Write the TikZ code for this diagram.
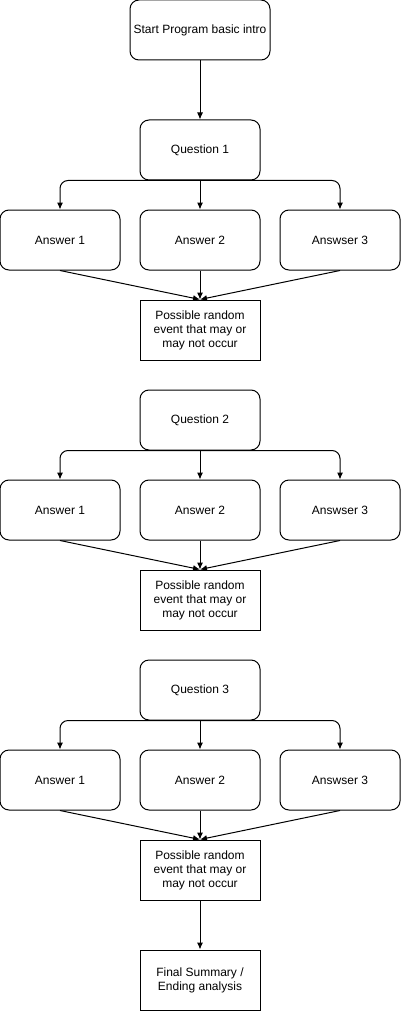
\documentclass[tikz,border=0pt]{standalone}
\usepackage{fontspec}
\setmainfont{Liberation Sans}
\usepackage{tikz}
\usetikzlibrary{arrows.meta,positioning}
\tikzstyle{line} = [draw, line width=1pt, >={Latex[length=7pt,width=6pt]}]
\tikzstyle{roundbox} = [draw, line width=1pt, rounded corners=9pt, minimum width=120pt, minimum height=60pt, inner sep=0pt, font=\fontsize{12}{14}\selectfont]
\tikzstyle{squarebox} = [draw, line width=1pt, minimum width=120pt, minimum height=60pt, inner sep=0pt, align=center, font=\fontsize{12}{14}\selectfont]
\tikzset{>=latex}

\begin{document}
\begin{tikzpicture}[x=1pt,y=-1pt]
      \useasboundingbox (0,0) rectangle (401,1011);

      \node [roundbox,minimum width=140pt] (start) at (200,30) {Start Program basic intro};

      % first question
      \node [roundbox] (q1) at (200,150) {Question 1};
      \node [roundbox] (a11) at (60,240) {Answer 1};
      \node [roundbox] (a12) at (200,240) {Answer 2};
      \node [roundbox] (a13) at (340,240) {Answser 3};
      \node [squarebox] (ev1) at (200,330) {Possible random\\event that may or\\may not occur};

      % second question
      \node [roundbox] (q2) at (200,420) {Question 2};
      \node [roundbox] (a21) at (60,510) {Answer 1};
      \node [roundbox] (a22) at (200,510) {Answer 2};
      \node [roundbox] (a23) at (340,510) {Answser 3};
      \node [squarebox] (ev2) at (200,600) {Possible random\\event that may or\\may not occur};

      % third question
      \node [roundbox] (q3) at (200,690) {Question 3};
      \node [roundbox] (a31) at (60,780) {Answer 1};
      \node [roundbox] (a32) at (200,780) {Answer 2};
      \node [roundbox] (a33) at (340,780) {Answser 3};
      \node [squarebox] (ev3) at (200,870) {Possible random\\event that may or\\may not occur};

      \node [squarebox] (final) at (200,980) {Final Summary /\\Ending analysis};

      \path [line,->] (start) -- (q1);
      \path [line,->,rounded corners=8pt] (q1.south) -| (a11.north);
      \path [line,->] (q1) -- (a12);
      \path [line,->,rounded corners=8pt] (q1.south) -| (a13.north);
      \path [line,->] (a11.south) -- (ev1.north);
      \path [line,->] (a12) -- (ev1);
      \path [line,->] (a13.south) -- (ev1.north);

      \path [line,->,rounded corners=8pt] (q2.south) -| (a21.north);
      \path [line,->] (q2) -- (a22);
      \path [line,->,rounded corners=8pt] (q2.south) -| (a23.north);
      \path [line,->] (a21.south) -- (ev2.north);
      \path [line,->] (a22) -- (ev2);
      \path [line,->] (a23.south) -- (ev2.north);

      \path [line,->,rounded corners=8pt] (q3.south) -| (a31.north);
      \path [line,->] (q3) -- (a32);
      \path [line,->,rounded corners=8pt] (q3.south) -| (a33.north);
      \path [line,->] (a31.south) -- (ev3.north);
      \path [line,->] (a32) -- (ev3);
      \path [line,->] (a33.south) -- (ev3.north);

      \path [line,->] (ev3) -- (final);
    \end{tikzpicture}
\end{document}
